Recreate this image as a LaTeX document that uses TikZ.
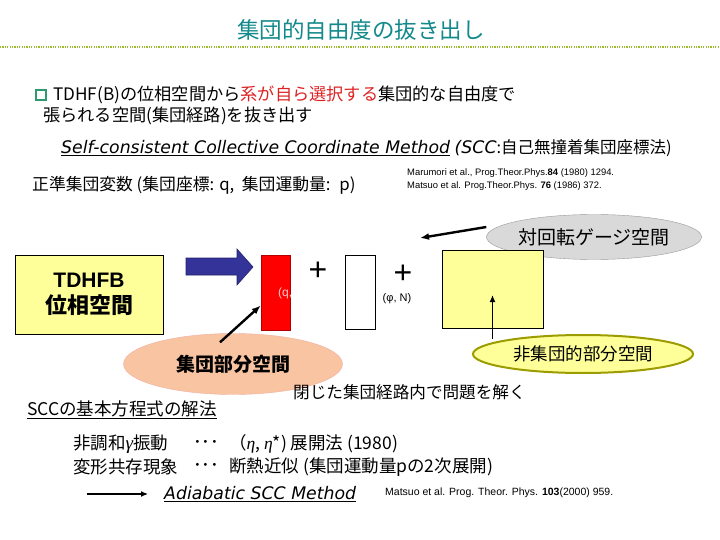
\documentclass[tikz,border=0pt]{standalone}
\usepackage{fontspec}
\setmainfont{Liberation Sans}
\newfontfamily\jp{Noto Sans CJK JP}
\newfontfamily\hand{DejaVu Sans}
\newfontfamily\grk{Liberation Serif}
\usetikzlibrary{positioning,arrows.meta,shapes.geometric,calc}
\newcommand\fsz[1]{\fontsize{#1}{#1}\selectfont}
\definecolor{ttlteal}{HTML}{13898B}
\definecolor{ruleolive}{HTML}{9EBB33}
\definecolor{bulgreen}{HTML}{2E9A72}
\definecolor{sysred}{HTML}{DD2222}
\definecolor{paleyel}{HTML}{FFFF99}
\definecolor{arrblue}{HTML}{333399}
\definecolor{salmon}{HTML}{F9C4A2}
\definecolor{salmonedge}{HTML}{F0B0A0}
\definecolor{gaugegray}{HTML}{D9D9D9}
\definecolor{ncolive}{HTML}{9C9C00}

\begin{document}
\begin{tikzpicture}[
  x=1pt, y=-1pt,
  every node/.style={inner sep=1pt},
  txt/.style={anchor=west, font=\jp\fsz{17.2}},
  ref/.style={anchor=west, font=\fsz{9.4}},
  ybox/.style={draw, fill=paleyel, line width=0.6pt, inner sep=0pt},
  bubble/.style={ellipse, inner sep=0pt},
  fatptr/.style={-{Latex[length=9pt,width=7pt]}, line width=2.4pt},
  thinptr/.style={-{Latex[length=7pt,width=6pt]}, line width=1.3pt}
]
\useasboundingbox (0,0) rectangle (720,540);

\node[font=\jp\fsz{22.5}, text=ttlteal] (title) at (361,30) {集団的自由度の抜き出し};
\draw[ruleolive, line width=2.5pt, dash pattern=on 1.2pt off 1.2pt] (0,47) -- (720,47);

\node[draw=bulgreen, line width=2pt, minimum size=10pt, inner sep=0pt] (bullet) at (41,95) {};
\node[txt] (introA) at (52,95) {TDHF(B)の位相空間から\textcolor{sysred}{系が自ら選択する}集団的な自由度で};
\node[txt] (introB) at (42,116) {張られる空間(集団経路)を抜き出す};

\node[anchor=west, font=\fsz{16.5}] (scc) at (60,148)
  {{\hand\itshape\fsz{17.3}\underline{Self-consistent Collective Coordinate Method}} {\hand\itshape\fsz{17.3}(SCC}{\jp :自己無撞着集団座標法)}};
\node[txt, font=\jp\fsz{16.8}] (canon) at (31,185) {正準集団変数 (集団座標: q,~ 集団運動量:~ p)};
\node[ref] (refA) at (406,173) {Marumori et al., Prog.Theor.Phys.\textbf{84} (1980) 1294.};
\node[ref] (refB) at (406,186) {Matsuo et al. Prog.Theor.Phys. \textbf{76} (1986) 372.};

\node[bubble, draw=gray!80, fill=gaugegray, minimum width=215pt, minimum height=45pt,
  font=\jp\fsz{19}] (gauge) at (594,237) {対回転ゲージ空間};
\coordinate (gaugetip) at (420,238);
\draw[fatptr] ([yshift=10pt]gauge.west) -- (gaugetip);

\node[ybox, minimum width=148pt, minimum height=79pt, align=center] (tdhfb) at (89,294.5)
  {\bfseries\fsz{21}TDHFB\\[6pt]{\jp\bfseries\fsz{22}位相空間}};
\fill[arrblue, draw=arrblue!70!black, line width=0.6pt]
  (186,258) -- (237,258) -- (237,249) -- (253,267) -- (237,285) -- (237,275) -- (186,275) -- cycle;
\node[draw=red!70!black, fill=red, line width=0.6pt, minimum width=29pt, minimum height=75pt, inner sep=0pt] (redbox) at (275.5,292.5) {};
\begin{scope}
  \clip (redbox.south west) rectangle (redbox.north east);
  \node[anchor=west, font=\fsz{12}, text=red!20!white] (qp) at (277,293) {(q, p)};
\end{scope}
\node[font=\fsz{32}] (plusA) at (318,271) {+};
\node[draw, fill=white, line width=0.6pt, minimum width=30pt, minimum height=74pt, inner sep=0pt] (whitebox) at (360,292) {};
\node[font=\fsz{32}] (plusB) at (403,274) {+};
\node[font=\fsz{11}] (phin) at (397,299) {(φ, N)};
\node[ybox, minimum width=101pt, minimum height=78pt] (ncbox) at (492.5,289) {};

\node[bubble, draw=ncolive, line width=2pt, fill=paleyel, minimum width=220pt, minimum height=38pt,
  font=\jp\fsz{17.5}] (ncsub) at (583,354) {非集団的部分空間};
\draw[thinptr] ([yshift=-5pt]ncbox.center |- ncsub.north) -- ([yshift=-6pt]ncbox.center);

\node[bubble, draw=salmonedge, fill=salmon, minimum width=219pt, minimum height=61pt,
  font=\jp\bfseries\fsz{19}] (collsub) at (233,364) {集団部分空間};
\draw[fatptr] ($(collsub.north)+(-13,9)$) -- ([yshift=-13pt]redbox.west);

\node[txt, font=\jp\fsz{16.6}] (closed) at (292,392) {閉じた集団経路内で問題を解く};
\node[txt, font=\jp\fsz{17.5}] (solve) at (26,410) {\underline{SCCの基本方程式の解法}};

\node[txt, font=\jp\fsz{17.5}] (anharm) at (72,444) {非調和{\grk\itshape\fsz{19}γ}振動};
\node[txt, font=\jp\fsz{17.5}] (dotsA) at (192,444) {･･･};
\node[txt, font=\jp\fsz{17.5}] (etaexp) at (228,444) {（{\grk\itshape η}, {\grk\itshape η}*) 展開法 (1980)};
\node[txt, font=\jp\fsz{17.5}] (deform) at (72,467) {変形共存現象};
\node[txt, font=\jp\fsz{17.5}] (dotsB) at (192,467) {･･･};
\node[txt, font=\jp\fsz{17.5}] (adiabexp) at (228,467) {断熱近似 (集団運動量pの2次展開)};

\node[anchor=west, font=\hand\itshape\fsz{17.3}] (asccm) at (163,494) {\underline{Adiabatic SCC Method}};
\coordinate (asctail) at (87,494);
\draw[thinptr, line width=1.2pt, shorten >=15pt] (asctail) -- (asccm.west);
\node[ref, font=\fsz{10.5}] (refC) at (384,493) {Matsuo et al. Prog. Theor. Phys. \textbf{103}(2000) 959.};
\end{tikzpicture}
\end{document}
